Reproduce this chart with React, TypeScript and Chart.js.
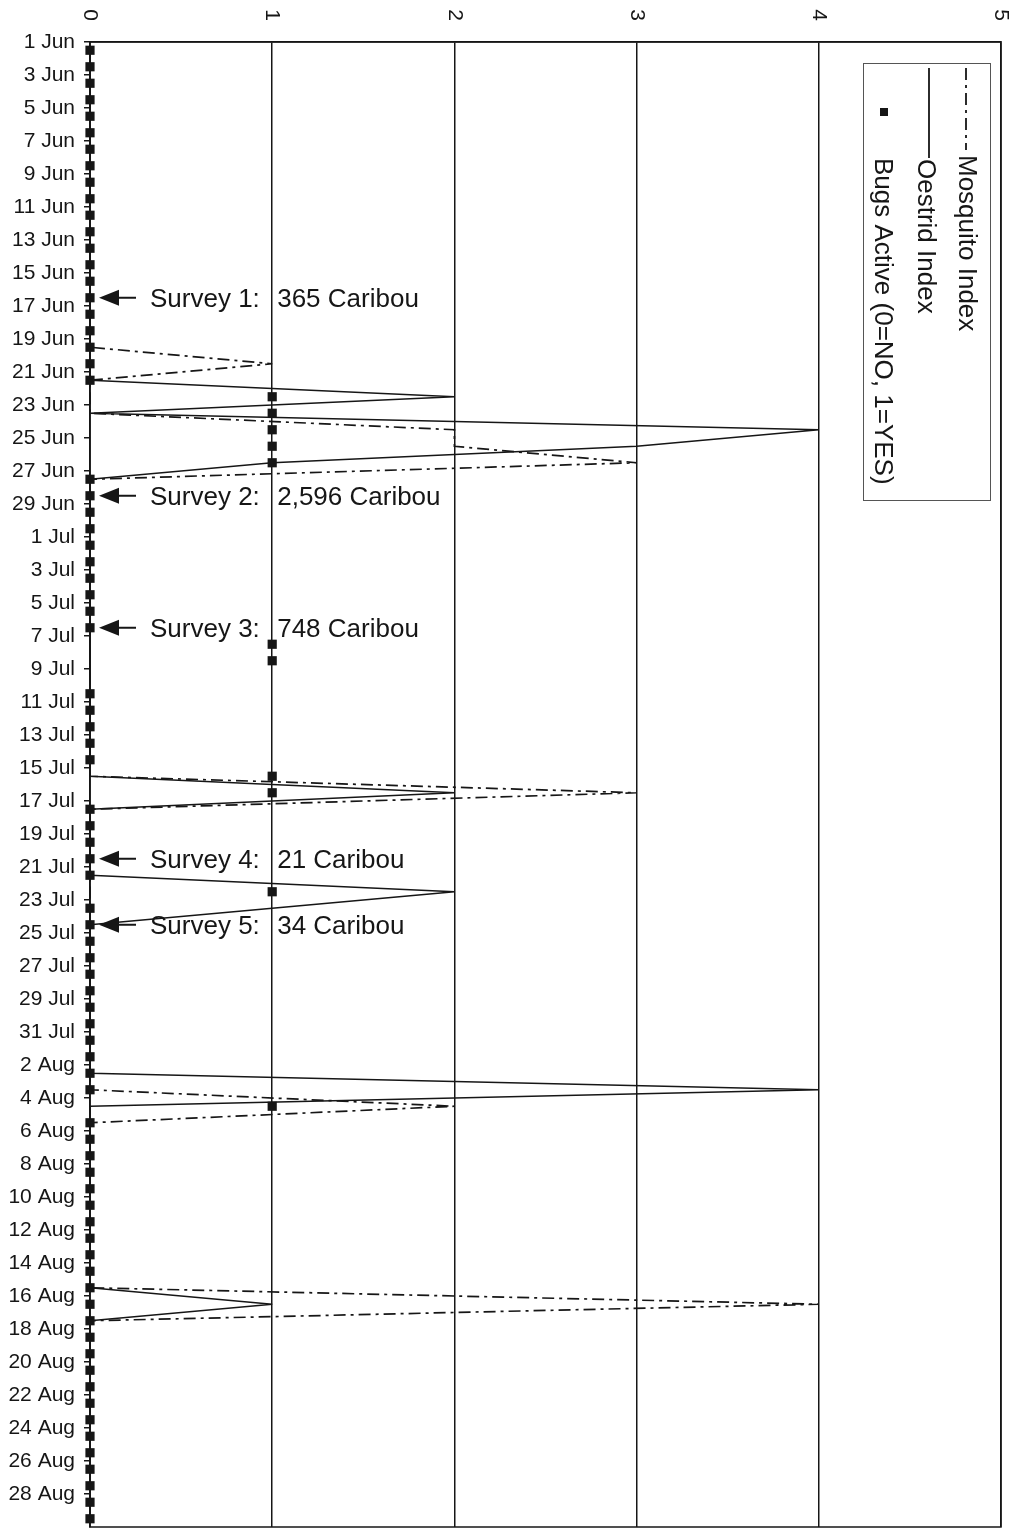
import { useEffect, useRef } from 'react';
import { Chart, registerables } from 'chart.js';

Chart.register(...registerables);

// ---- categories: one per day, 1 Jun – 29 Aug ----
const monthNames = ['Jun', 'Jul', 'Aug'];
const monthLengths = [30, 31, 29];
const dayLabels: string[] = monthNames.flatMap((m, i) =>
  Array.from({ length: monthLengths[i] }, (_, k) => `${k + 1} ${m}`)
);

// ---- series (one value per day) ----
const mosquitoIndex = [
  0, 0, 0, 0, 0, 0, 0, 0, 0, 0,
  0, 0, 0, 0, 0, 0, 0, 0, 0, 1,
  0, 0, 0, 2, 2, 3, 0, 0, 0, 0,
  0, 0, 0, 0, 0, 0, 0, 0, 0, 0,
  0, 0, 0, 0, 0, 3, 0, 0, 0, 0,
  0, 0, 0, 0, 0, 0, 0, 0, 0, 0,
  0, 0, 0, 0, 2, 0, 0, 0, 0, 0,
  0, 0, 0, 0, 0, 0, 4, 0, 0, 0,
  0, 0, 0, 0, 0, 0, 0, 0, 0, 0,
];

const oestridIndex = [
  0, 0, 0, 0, 0, 0, 0, 0, 0, 0,
  0, 0, 0, 0, 0, 0, 0, 0, 0, 0,
  0, 2, 0, 4, 3, 1, 0, 0, 0, 0,
  0, 0, 0, 0, 0, 0, 0, 0, 0, 0,
  0, 0, 0, 0, 0, 2, 0, 0, 0, 0,
  0, 2, 1, 0, 0, 0, 0, 0, 0, 0,
  0, 0, 0, 4, 0, 0, 0, 0, 0, 0,
  0, 0, 0, 0, 0, 0, 1, 0, 0, 0,
  0, 0, 0, 0, 0, 0, 0, 0, 0, 0,
];

const bugsActive: (number | null)[] = [
  0, 0, 0, 0, 0, 0, 0, 0, 0, 0,
  0, 0, 0, 0, 0, 0, 0, 0, 0, 0,
  0, 1, 1, 1, 1, 1, 0, 0, 0, 0,
  0, 0, 0, 0, 0, 0, 1, 1, null, 0,
  0, 0, 0, 0, 1, 1, 0, 0, 0, 0,
  0, 1, 0, 0, 0, 0, 0, 0, 0, 0,
  0, 0, 0, 0, 1, 0, 0, 0, 0, 0,
  0, 0, 0, 0, 0, 0, 0, 0, 0, 0,
  0, 0, 0, 0, 0, 0, 0, 0, 0, 0,
];

// ---- axis / legend / annotation text ----
const valueTicks = [0, 1, 2, 3, 4, 5];
const legendLabels = ['Mosquito Index', 'Oestrid Index', 'Bugs Active (0=NO, 1=YES)'];
const surveyDays = ['16 Jun', '28 Jun', '6 Jul', '20 Jul', '24 Jul'];
const surveyNames = ['Survey 1:', 'Survey 2:', 'Survey 3:', 'Survey 4:', 'Survey 5:'];
const surveyCounts = ['365 Caribou', '2,596 Caribou', '748 Caribou', '21 Caribou', '34 Caribou'];

const FAMILY = '"Liberation Sans", Arial, Helvetica, sans-serif';
const INK = '#161616';
const DASH_DOT = [12, 5, 3, 5];

function toPoints(arr: (number | null)[]) {
  const out: { x: number; y: number }[] = [];
  arr.forEach((v, i) => {
    if (v !== null && v !== undefined) out.push({ x: v, y: i });
  });
  return out;
}

function rotatedText(ctx: CanvasRenderingContext2D, text: string, x: number, y: number, align: CanvasTextAlign) {
  ctx.save();
  ctx.translate(x, y);
  ctx.rotate(Math.PI / 2);
  ctx.textAlign = align;
  ctx.textBaseline = 'middle';
  ctx.fillText(text, 0, 0);
  ctx.restore();
}

export default function App() {
  const ref = useRef<HTMLCanvasElement>(null);

  useEffect(() => {
    const canvas = ref.current;
    if (!canvas) return;

    const overlay = {
      id: 'overlay',
      beforeDraw(chart: any) {
        const c = chart.ctx;
        c.save();
        c.fillStyle = '#ffffff';
        c.fillRect(0, 0, chart.width, chart.height);
        c.restore();
      },
      beforeDatasetsDraw(chart: any) {
        const c = chart.ctx;
        const a = chart.chartArea;
        c.save();
        c.strokeStyle = INK;
        c.lineWidth = 1.5;
        c.strokeRect(a.left, a.top, a.right - a.left, a.bottom - a.top);
        c.restore();
      },
      afterDraw(chart: any) {
        const c: CanvasRenderingContext2D = chart.ctx;
        const xs = chart.scales.x;
        const ys = chart.scales.y;
        c.save();
        c.fillStyle = INK;
        c.strokeStyle = INK;

        // rotated value labels along the top
        c.font = `21px ${FAMILY}`;
        valueTicks.forEach((v) => {
          rotatedText(c, String(v), xs.getPixelForValue(v), 15, 'center');
        });

        // legend box (rotated)
        c.lineWidth = 1;
        c.strokeStyle = '#555';
        c.strokeRect(863.5, 63.5, 127, 437);
        c.strokeStyle = INK;
        c.font = `26px ${FAMILY}`;
        // Mosquito
        c.lineWidth = 1.8;
        c.setLineDash(DASH_DOT);
        c.beginPath();
        c.moveTo(966, 68);
        c.lineTo(966, 150);
        c.stroke();
        c.setLineDash([]);
        rotatedText(c, legendLabels[0], 966, 155, 'left');
        // Oestrid
        c.beginPath();
        c.moveTo(929, 68);
        c.lineTo(929, 158);
        c.stroke();
        rotatedText(c, legendLabels[1], 925, 159, 'left');
        // Bugs
        c.fillRect(880, 108, 8, 8);
        rotatedText(c, legendLabels[2], 882, 158, 'left');

        // survey annotations
        c.font = `26px ${FAMILY}`;
        c.textBaseline = 'middle';
        c.textAlign = 'left';
        const left = chart.chartArea.left;
        surveyDays.forEach((day, i) => {
          const y = ys.getPixelForValue(dayLabels.indexOf(day));
          const tip = left + 9;
          c.beginPath();
          c.moveTo(tip, y);
          c.lineTo(tip + 20, y - 8);
          c.lineTo(tip + 20, y + 8);
          c.closePath();
          c.fill();
          c.lineWidth = 2;
          c.beginPath();
          c.moveTo(tip + 18, y);
          c.lineTo(tip + 37, y);
          c.stroke();
          c.fillText(surveyNames[i], left + 60, y + 2);
          c.fillText(surveyCounts[i], xs.getPixelForValue(1) + 5, y + 2);
        });
        c.restore();
      },
    };

    const chart = new Chart(canvas, {
      type: 'line',
      data: {
        datasets: [
          {
            label: legendLabels[0],
            data: toPoints(mosquitoIndex),
            borderColor: INK,
            borderWidth: 1.7,
            borderDash: DASH_DOT,
            pointRadius: 0,
            tension: 0,
            fill: false,
          },
          {
            label: legendLabels[1],
            data: toPoints(oestridIndex),
            borderColor: INK,
            borderWidth: 1.7,
            pointRadius: 0,
            tension: 0,
            fill: false,
          },
          {
            label: legendLabels[2],
            data: toPoints(bugsActive),
            showLine: false,
            pointStyle: 'rect',
            pointRadius: 6.5,
            pointBackgroundColor: INK,
            pointBorderWidth: 0,
            borderColor: INK,
            clip: false,
          },
        ] as any,
      },
      options: {
        animation: false,
        responsive: false,
        indexAxis: 'y',
        layout: { autoPadding: false, padding: { top: 0, right: 21, bottom: 1, left: 0 } },
        plugins: {
          legend: { display: false },
          tooltip: { enabled: false },
        },
        scales: {
          x: {
            type: 'linear',
            position: 'top',
            min: 0,
            max: 5,
            afterFit: (s: any) => {
              s.height = 42;
              s.paddingLeft = 0;
              s.paddingRight = 0;
              s.paddingTop = 0;
              s.paddingBottom = 0;
            },
            afterBuildTicks: (s: any) => {
              s.ticks = valueTicks.map((v) => ({ value: v }));
            },
            ticks: { display: false },
            grid: { color: INK, lineWidth: 1.5, drawTicks: false },
            border: { display: true, color: INK, width: 1.5 },
          },
          y: {
            type: 'linear',
            position: 'left',
            reverse: true,
            min: -0.5,
            max: dayLabels.length - 0.5,
            afterFit: (s: any) => {
              s.width = 90;
              s.paddingLeft = 0;
              s.paddingRight = 0;
              s.paddingTop = 0;
              s.paddingBottom = 0;
            },
            afterBuildTicks: (s: any) => {
              s.ticks = dayLabels
                .map((_, i) => i)
                .filter((i) => i % 2 === 0)
                .map((i) => ({ value: i - 0.5 }));
            },
            ticks: {
              autoSkip: false,
              padding: 9,
              color: INK,
              font: { family: FAMILY, size: 21 },
              callback: (v: any) => dayLabels[Math.round(Number(v) + 0.5)],
            },
            grid: { drawOnChartArea: false, drawTicks: true, tickLength: 6, color: INK, lineWidth: 1.5 },
            border: { display: true, color: INK, width: 1.5 },
          },
        },
      } as any,
      plugins: [overlay],
    });

    return () => chart.destroy();
  }, []);

  return (
    <div style={{ position: 'absolute', left: 0, top: 0, width: 1022, height: 1528, background: '#fff' }}>
      <canvas ref={ref} width={1022} height={1528} style={{ display: 'block' }} />
    </div>
  );
}
